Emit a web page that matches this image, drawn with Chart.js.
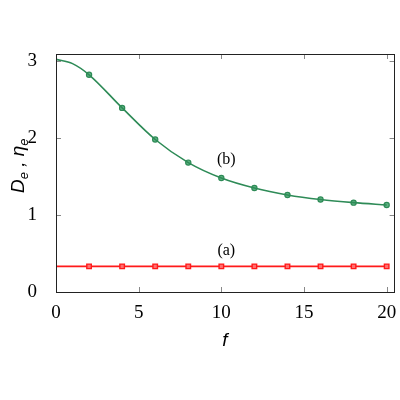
<!DOCTYPE html>
<html><head><meta charset="utf-8">
<script src="https://cdn.jsdelivr.net/npm/chart.js@4"></script>
<style>html,body{margin:0;padding:0;background:#fff}#wrap{width:400px;height:400px}</style>
</head><body><div id="wrap"><canvas id="c"></canvas></div>
<script>
// markers
const fValues = [0, 2, 4, 6, 8, 10, 12, 14, 16, 18, 20];
const seriesB = [3.02, 2.82, 2.39, 1.98, 1.68, 1.48, 1.35, 1.26, 1.20, 1.16, 1.13];
const seriesA = [0.333, 0.333, 0.333, 0.333, 0.333, 0.333, 0.333, 0.333, 0.333, 0.333, 0.333];
// smooth curve (b), including the flat start near f = 0
const curveF = [0, 1, 2, 4, 6, 8, 10, 12, 14, 16, 18, 20];
const curveB = [3.02, 2.965, 2.82, 2.39, 1.98, 1.68, 1.48, 1.35, 1.26, 1.20, 1.16, 1.13];
const xTicks = [0, 5, 10, 15, 20];
const yTicks = [0, 1, 2, 3];
const curveLabels = ['(a)', '(b)'];

const green = '#2e8b57', red = '#ff1a1a';
const toPts = (xs, ys) => xs.map((x, i) => ({x, y: ys[i]}));

const framePlugin = {
  id: 'frame',
  afterDraw(chart) {
    const {ctx, chartArea: a, scales: {x, y}} = chart;
    ctx.save();
    ctx.strokeStyle = '#888'; ctx.lineWidth = 1;
    ctx.beginPath();
    xTicks.forEach(v => {
      const px = Math.round(x.getPixelForValue(v)) + 0.5;
      ctx.moveTo(px, a.bottom); ctx.lineTo(px, a.bottom - 5);
      ctx.moveTo(px, a.top); ctx.lineTo(px, a.top + 5);
    });
    yTicks.forEach(v => {
      const py = Math.round(y.getPixelForValue(v)) + 0.5;
      ctx.moveTo(a.left, py); ctx.lineTo(a.left + 5, py);
      ctx.moveTo(a.right, py); ctx.lineTo(a.right - 5, py);
    });
    ctx.stroke();
    ctx.strokeStyle = '#222'; ctx.lineWidth = 1;
    ctx.strokeRect(Math.round(a.left) + 0.5, Math.round(a.top) + 0.5, Math.round(a.right - a.left) - 1, Math.round(a.bottom - a.top));
    ctx.fillStyle = '#000';
    ctx.font = '16px "Liberation Serif"';
    ctx.textAlign = 'center'; ctx.textBaseline = 'middle';
    ctx.fillText(curveLabels[0], x.getPixelForValue(10.3), y.getPixelForValue(0.53));
    ctx.fillText(curveLabels[1], x.getPixelForValue(10.3), y.getPixelForValue(1.71));
    ctx.font = 'italic 19px "Liberation Sans"';
    ctx.textBaseline = 'alphabetic';
    ctx.fillText('f', (a.left + a.right) / 2 - 0.5, 346);
    ctx.translate(24, 193);
    ctx.rotate(-Math.PI / 2);
    ctx.textAlign = 'left';
    let cx = 0;
    const big = 'italic 19px "Liberation Sans"', small = 'italic 13px "Liberation Sans"';
    const part = (t, f, dy) => { ctx.font = f; ctx.fillText(t, cx, dy); cx += ctx.measureText(t).width; };
    part('D', big, 0);
    part('e', small, 4);
    part(' , ', big, 0);
    part('η', big, 0);
    part('e', small, 4);
    ctx.restore();
  }
};

new Chart(document.getElementById('c'), {
  type: 'line',
  data: {
    datasets: [
      {
        data: toPts(curveF, curveB), borderColor: green, borderWidth: 1.6,
        cubicInterpolationMode: 'monotone', pointRadius: 0
      },
      {
        data: toPts(fValues, seriesB), showLine: false,
        pointStyle: 'circle',
        pointRadius: (c) => c.dataIndex === 0 ? 0 : 2.6,
        pointBackgroundColor: '#5fb383', pointBorderColor: green, pointBorderWidth: 1.2
      },
      {
        data: toPts(fValues, seriesA), borderColor: red, borderWidth: 1.6, tension: 0,
        pointStyle: 'rect',
        pointRadius: (c) => c.dataIndex === 0 ? 0 : 3.2,
        pointBackgroundColor: '#ff7070', pointBorderColor: red, pointBorderWidth: 1.4
      }
    ]
  },
  options: {
    responsive: true, maintainAspectRatio: false, animation: false, devicePixelRatio: 1,
    layout: {padding: {top: 54, right: 3, left: 0, bottom: 0}},
    plugins: {legend: {display: false}, tooltip: {enabled: false}},
    scales: {
      x: {
        type: 'linear', min: 0, max: 20.48,
        afterBuildTicks: (s) => { s.ticks = xTicks.map(v => ({value: v})); },
        afterFit: (s) => { s.height = 108; s.paddingLeft = 0; s.paddingRight = 0; },
        grid: {display: false}, border: {display: false},
        ticks: {color: '#000', padding: 2, maxRotation: 0, font: {family: 'Liberation Serif', size: 19}}
      },
      y: {
        type: 'linear', min: 0, max: 3.09,
        afterBuildTicks: (s) => { s.ticks = yTicks.map(v => ({value: v})); },
        afterFit: (s) => { s.width = 56; s.paddingTop = 0; s.paddingBottom = 0; },
        grid: {display: false}, border: {display: false},
        ticks: {color: '#000', padding: 11, font: {family: 'Liberation Serif', size: 19}}
      }
    }
  },
  plugins: [framePlugin]
});
</script></body></html>
